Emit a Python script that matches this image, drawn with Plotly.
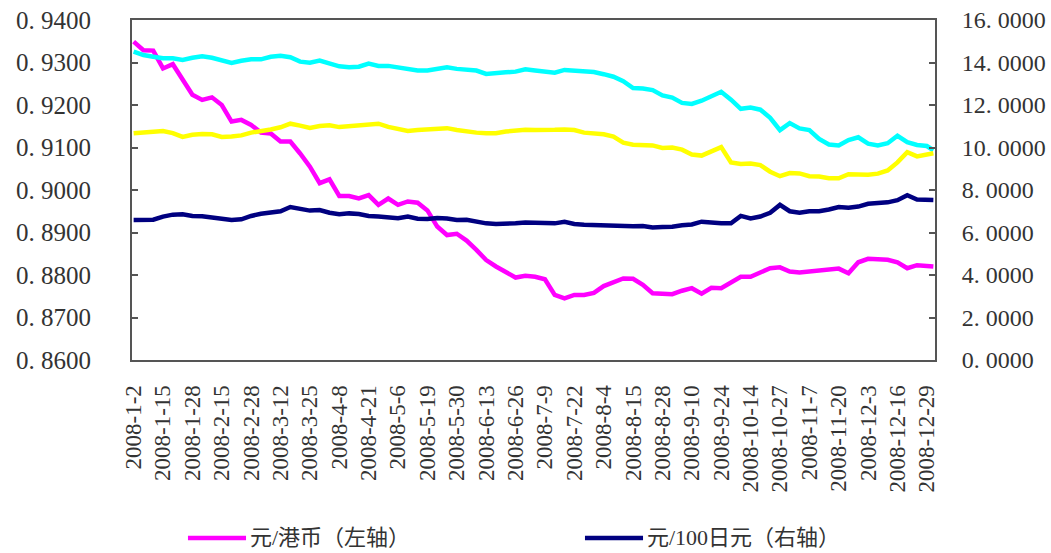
import pandas as pd
import plotly.graph_objects as go

# Interbank trading days of 2008 (weekends and market holidays removed)
holidays_2008 = [
    "2008-01-01", "2008-02-06", "2008-02-07", "2008-02-08", "2008-02-11",
    "2008-02-12", "2008-04-04", "2008-05-01", "2008-05-02", "2008-06-09",
    "2008-09-15", "2008-09-29", "2008-09-30", "2008-10-01", "2008-10-02",
    "2008-10-03",
]
trading_days = pd.bdate_range("2008-01-01", "2008-12-31").difference(pd.to_datetime(holidays_2008))

tick_labels = [
    "2008-1-2", "2008-1-15", "2008-1-28", "2008-2-15", "2008-2-28", "2008-3-12",
    "2008-3-25", "2008-4-8", "2008-4-21", "2008-5-6", "2008-5-19", "2008-5-30",
    "2008-6-13", "2008-6-26", "2008-7-9", "2008-7-22", "2008-8-4", "2008-8-15",
    "2008-8-28", "2008-9-10", "2008-9-24", "2008-10-14", "2008-10-27", "2008-11-7",
    "2008-11-20", "2008-12-3", "2008-12-16", "2008-12-29",
]

left_ticks = [0.86, 0.87, 0.88, 0.89, 0.90, 0.91, 0.92, 0.93, 0.94]
left_tick_text = ["0. 8600", "0. 8700", "0. 8800", "0. 8900", "0. 9000",
                  "0. 9100", "0. 9200", "0. 9300", "0. 9400"]
right_ticks = [0, 2, 4, 6, 8, 10, 12, 14, 16]
right_tick_text = ["0. 0000", "2. 0000", "4. 0000", "6. 0000", "8. 0000",
                   "10. 0000", "12. 0000", "14. 0000", "16. 0000"]

# Rates read every third trading day, plus the last day of the year
cny_per_hkd = [
    0.9349, 0.9329, 0.9328, 0.9286, 0.9296, 0.9260, 0.9224, 0.9212, 0.9218, 0.9200,
    0.9161, 0.9165, 0.9153, 0.9135, 0.9133, 0.9114, 0.9114, 0.9086, 0.9055, 0.9016,
    0.9025, 0.8986, 0.8986, 0.8980, 0.8988, 0.8965, 0.8980, 0.8965, 0.8973, 0.8970,
    0.8952, 0.8914, 0.8894, 0.8897, 0.8881, 0.8859, 0.8835, 0.8820, 0.8806, 0.8794,
    0.8798, 0.8796, 0.8790, 0.8753, 0.8745, 0.8753, 0.8753, 0.8758, 0.8774, 0.8784,
    0.8792, 0.8791, 0.8777, 0.8757, 0.8756, 0.8755, 0.8763, 0.8769, 0.8756, 0.8770,
    0.8769, 0.8784, 0.8796, 0.8796, 0.8806, 0.8816, 0.8818, 0.8808, 0.8806, 0.8808,
    0.8812, 0.8812, 0.8815, 0.8804, 0.8830, 0.8838, 0.8836, 0.8836, 0.8830, 0.8816,
    0.8823, 0.8821, 0.8820,
]
cny_per_100jpy = [
    6.59, 6.62, 6.60, 6.75, 6.84, 6.86, 6.78, 6.76, 6.72, 6.66,
    6.59, 6.62, 6.78, 6.88, 6.94, 7.00, 7.20, 7.14, 7.03, 7.06,
    6.93, 6.86, 6.90, 6.87, 6.78, 6.75, 6.70, 6.67, 6.75, 6.65,
    6.64, 6.68, 6.66, 6.59, 6.60, 6.50, 6.43, 6.40, 6.40, 6.43,
    6.47, 6.46, 6.43, 6.43, 6.50, 6.40, 6.37, 6.35, 6.35, 6.31,
    6.28, 6.29, 6.31, 6.24, 6.26, 6.27, 6.34, 6.38, 6.51, 6.45,
    6.43, 6.43, 6.78, 6.66, 6.75, 6.93, 7.30, 7.00, 6.93, 7.00,
    7.00, 7.08, 7.20, 7.16, 7.22, 7.35, 7.38, 7.42, 7.52, 7.75,
    7.55, 7.53, 7.53,
]
cny_per_gbp = [
    14.51, 14.35, 14.27, 14.20, 14.20, 14.12, 14.22, 14.29, 14.22, 14.09,
    13.98, 14.08, 14.15, 14.15, 14.27, 14.32, 14.25, 14.04, 13.99, 14.09,
    13.96, 13.82, 13.78, 13.80, 13.95, 13.84, 13.84, 13.77, 13.67, 13.62,
    13.62, 13.72, 13.77, 13.70, 13.64, 13.62, 13.46, 13.52, 13.54, 13.57,
    13.68, 13.62, 13.55, 13.52, 13.65, 13.62, 13.57, 13.55, 13.45, 13.33,
    13.12, 12.80, 12.78, 12.70, 12.45, 12.35, 12.10, 12.05, 12.20, 12.39,
    12.62, 12.25, 11.82, 11.88, 11.78, 11.40, 10.82, 11.15, 10.90, 10.82,
    10.40, 10.14, 10.10, 10.35, 10.48, 10.18, 10.10, 10.20, 10.55, 10.25,
    10.12, 10.07, 9.87,
]
cny_per_eur = [
    10.67, 10.70, 10.75, 10.78, 10.68, 10.50, 10.60, 10.64, 10.62, 10.50,
    10.52, 10.57, 10.70, 10.75, 10.85, 10.95, 11.12, 11.03, 10.92, 11.01,
    11.05, 10.96, 11.01, 11.06, 11.06, 11.12, 10.97, 10.87, 10.78, 10.82,
    10.85, 10.92, 10.91, 10.82, 10.75, 10.70, 10.67, 10.67, 10.75, 10.80,
    10.84, 10.82, 10.80, 10.83, 10.85, 10.82, 10.70, 10.67, 10.62, 10.51,
    10.23, 10.13, 10.12, 10.10, 9.98, 10.00, 9.90, 9.67, 9.62, 9.80,
    10.02, 9.30, 9.22, 9.25, 9.17, 8.86, 8.65, 8.80, 8.78, 8.65,
    8.63, 8.55, 8.55, 8.74, 8.73, 8.72, 8.77, 8.92, 9.30, 9.78,
    9.58, 9.64, 9.73,
]

# Position of each reading on the trading-day (category) axis
day_index = {d: i for i, d in enumerate(trading_days)}
sample_days = list(trading_days[::3]) + [trading_days[-1]]
sample_x = [day_index[d] for d in sample_days]
tick_x = [day_index[pd.Timestamp(lbl)] for lbl in tick_labels]

LINE_W = 4.5
fig = go.Figure()
fig.add_trace(go.Scatter(x=sample_x, y=cny_per_hkd, mode="lines", name="元/港币（左轴）",
                         line=dict(color="#FF00FF", width=LINE_W), yaxis="y"))
fig.add_trace(go.Scatter(x=sample_x, y=cny_per_100jpy, mode="lines", name="元/100日元（右轴）",
                         line=dict(color="#000080", width=LINE_W), yaxis="y2"))
fig.add_trace(go.Scatter(x=sample_x, y=cny_per_gbp, mode="lines", name="元/英镑（右轴）",
                         line=dict(color="#00FFFF", width=LINE_W), yaxis="y2"))
fig.add_trace(go.Scatter(x=sample_x, y=cny_per_eur, mode="lines", name="元/欧元（右轴）",
                         line=dict(color="#FFFF00", width=LINE_W), yaxis="y2"))

AXIS_COLOR = "#555555"
TEXT_COLOR = "#333333"
serif = "Liberation Serif, Times New Roman, serif"

fig.update_layout(
    width=1051, height=553,
    margin=dict(l=132, r=116, t=20, b=193),
    paper_bgcolor="white", plot_bgcolor="white",
    showlegend=False,
    xaxis=dict(
        range=[-0.5, len(trading_days) - 0.5],
        tickmode="array", tickvals=tick_x, ticktext=tick_labels,
        tickangle=-90, ticks="",
        tickfont=dict(family=serif, size=23, color=TEXT_COLOR),
        ticklabelstandoff=14, automargin=False,
        showgrid=False, zeroline=False,
        showline=True, linecolor=AXIS_COLOR, linewidth=2, mirror=True,
    ),
    yaxis=dict(
        range=[0.86, 0.94], tickmode="array",
        tickvals=left_ticks, ticktext=left_tick_text,
        ticks="inside", ticklen=6, tickwidth=1.5, tickcolor=AXIS_COLOR,
        tickfont=dict(family=serif, size=25, color=TEXT_COLOR),
        ticklabelstandoff=34, automargin=False,
        showgrid=False, zeroline=False,
        showline=True, linecolor=AXIS_COLOR, linewidth=2,
    ),
    yaxis2=dict(
        range=[0, 16], overlaying="y", side="right", tickmode="array",
        tickvals=right_ticks, ticktext=right_tick_text,
        ticks="inside", ticklen=6, tickwidth=1.5, tickcolor=AXIS_COLOR,
        tickfont=dict(family=serif, size=24, color=TEXT_COLOR),
        ticklabelstandoff=20, automargin=False,
        showgrid=False, zeroline=False,
        showline=True, linecolor=AXIS_COLOR, linewidth=2,
    ),
)

# Legend row below the date labels: a line sample followed by the series name
legend_font = dict(family="Liberation Serif, Noto Sans CJK SC, sans-serif", size=22, color=TEXT_COLOR)
legend_items = [
    (0.0697, 0.1420, "#FF00FF", "元/港币（左轴）"),
    (0.5641, 0.6364, "#000080", "元/100日元（右轴）"),
]
legend_y = -0.5235
for x0, x1, color, label in legend_items:
    fig.add_shape(type="line", xref="paper", yref="paper", x0=x0, x1=x1,
                  y0=legend_y, y1=legend_y, line=dict(color=color, width=4.5))
    fig.add_annotation(xref="paper", yref="paper", x=x1 + 0.003, y=legend_y,
                       text=label, showarrow=False, xanchor="left", yanchor="middle",
                       font=legend_font)

fig.write_html("out.html", config={"displayModeBar": False})
